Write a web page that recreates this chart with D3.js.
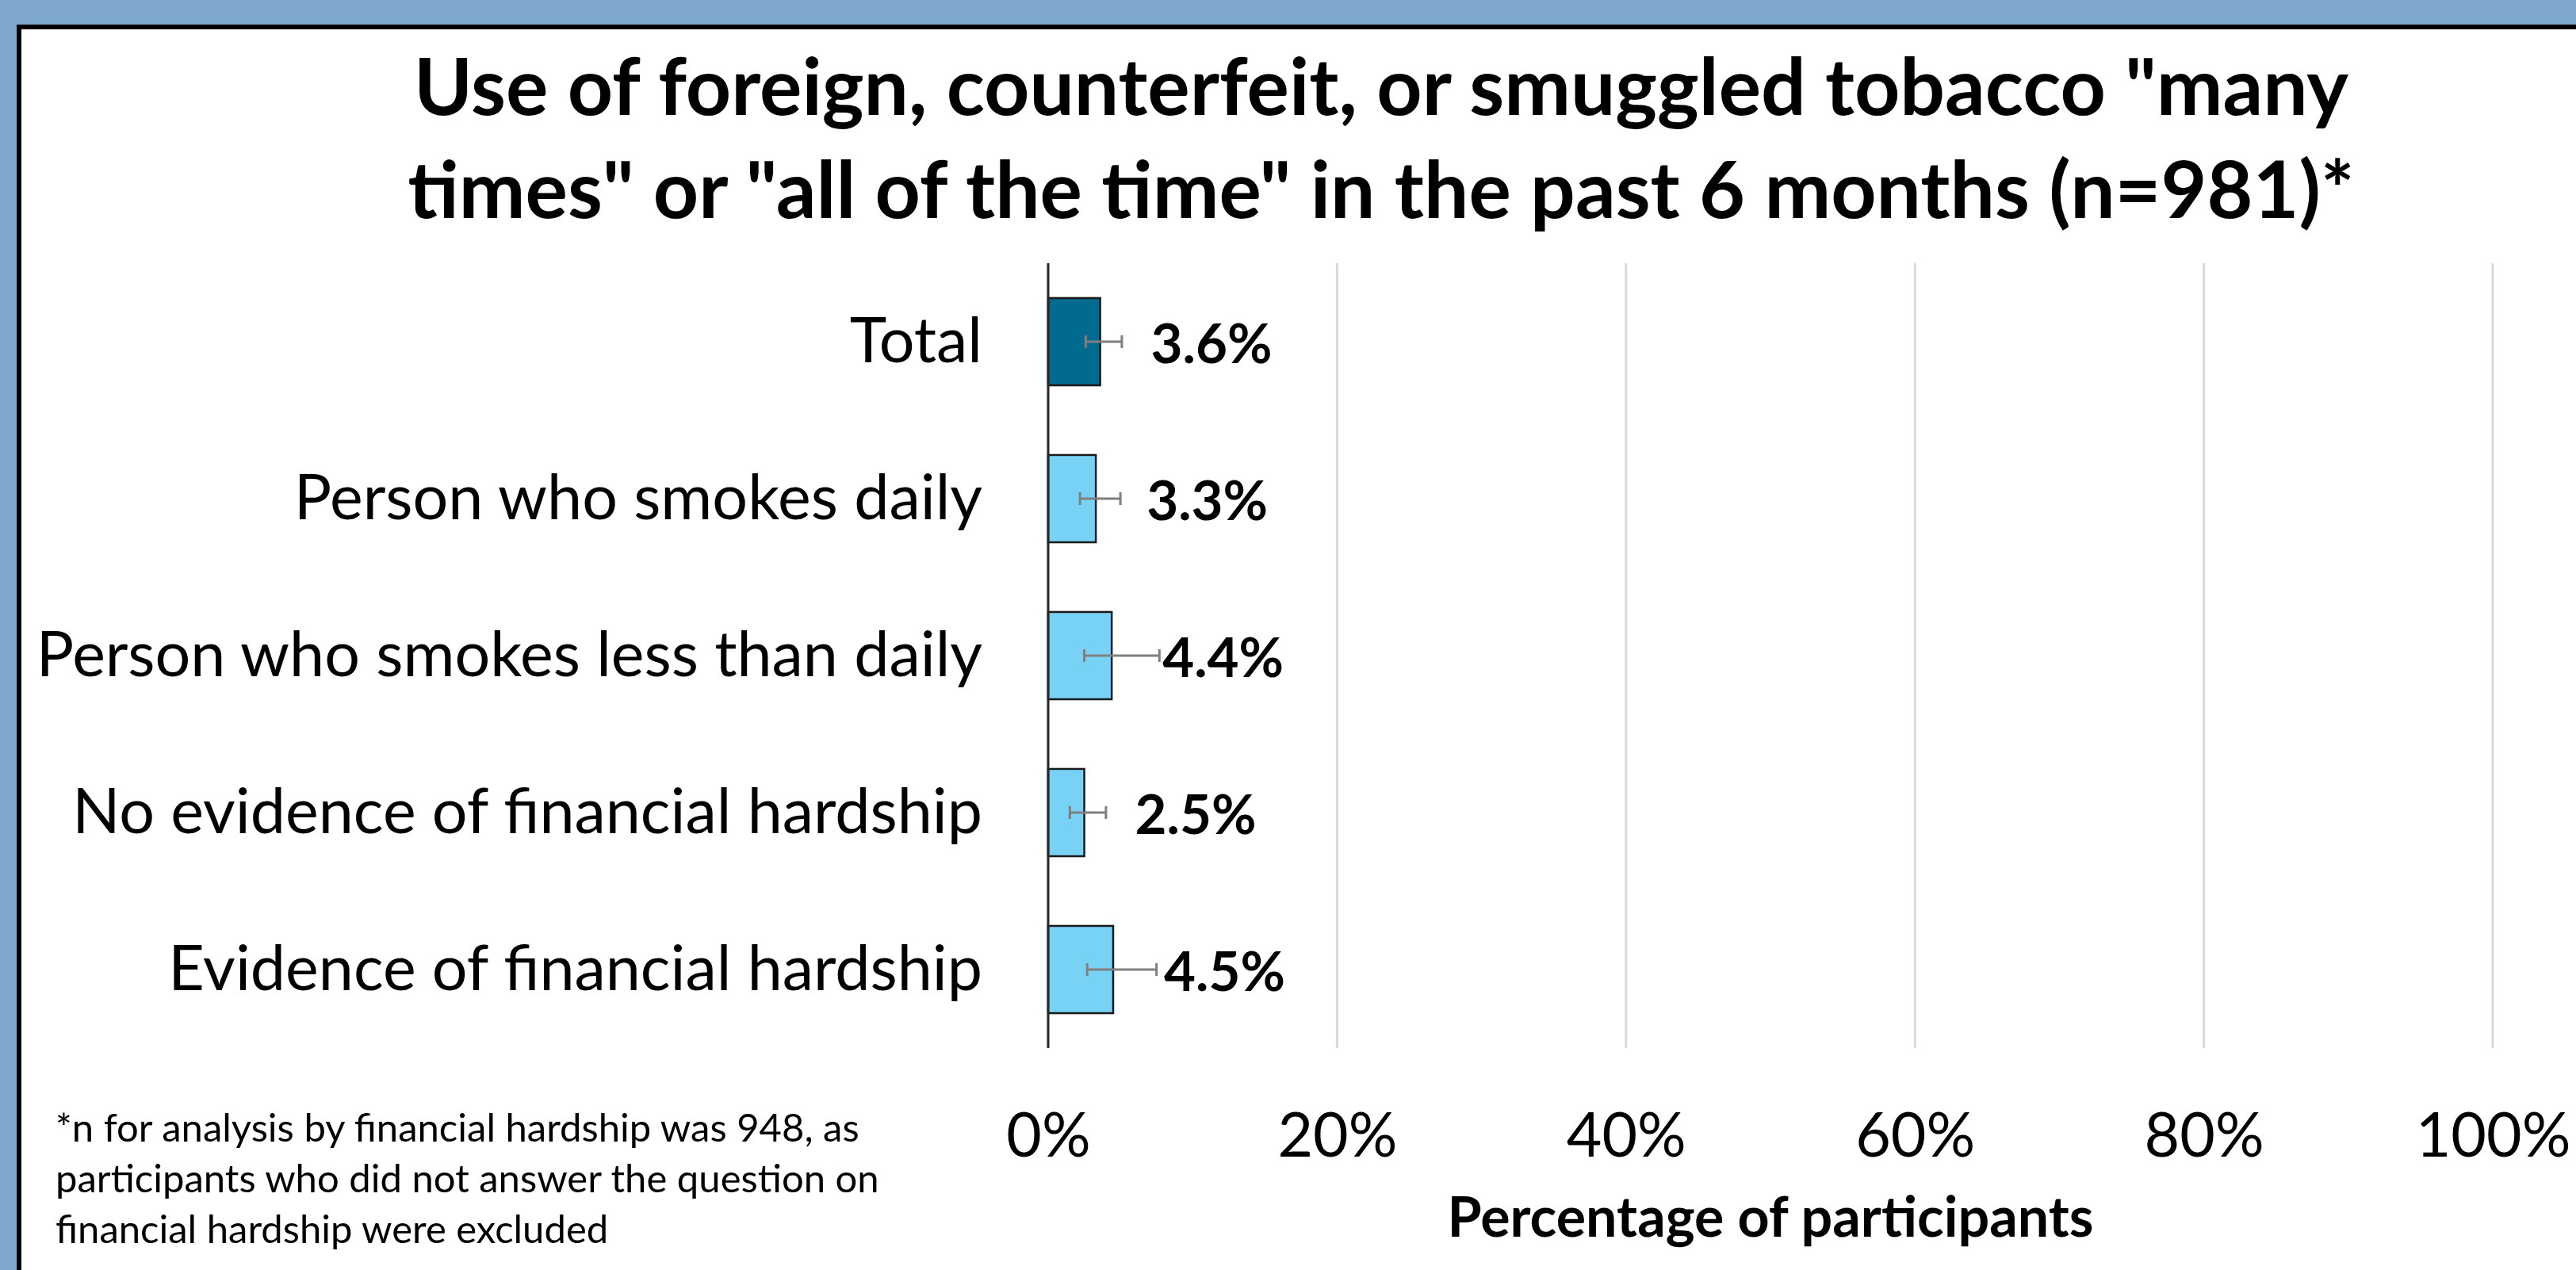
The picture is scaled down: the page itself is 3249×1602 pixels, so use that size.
<!DOCTYPE html>
<html>
<head>
<meta charset="utf-8">
<script src="https://cdn.jsdelivr.net/npm/d3@7"></script>
<style>
  body { margin: 0; background: #7fa9cc; }
  text { font-family: Lato, "Open Sans", sans-serif; fill: #000; }
</style>
</head>
<body>
<script>
var width = 3249,
    height = 1602;

// data
var categories = ["Total", "Person who smokes daily", "Person who smokes less than daily",
                  "No evidence of financial hardship", "Evidence of financial hardship"];
var values = [3.6, 3.3, 4.4, 2.5, 4.5];
var ciLow = [2.6, 2.2, 2.5, 1.5, 2.7];
var ciHigh = [5.1, 5.0, 7.7, 4.0, 7.5];
var xTicks = [0, 20, 40, 60, 80, 100];

var titleLines = ["Use of foreign, counterfeit, or smuggled tobacco \"many",
                  "times\" or \"all of the time\" in the past 6 months (n=981)*"];
var footLines = ["*n for analysis by financial hardship was 948, as",
                 "participants who did not answer the question on",
                 "financial hardship were excluded"];

var rows = categories.map(function(c, i) {
  return {cat: c, val: values[i], lo: ciLow[i], hi: ciHigh[i], idx: i};
});

var plot = {left: 1322, right: 3144, top: 332, bottom: 1322};

//create svg canvas
var svg = d3.select("body").append("svg")
  .attr("width", width)
  .attr("height", height)
  .attr("id", "canvas");

svg.append("rect")
  .attr("width", width).attr("height", height)
  .attr("fill", "#7fa9cc");

// white panel with black frame (runs off the right / bottom edge)
svg.append("rect")
  .attr("x", 24).attr("y", 34)
  .attr("width", width + 40).attr("height", height + 40)
  .attr("fill", "#fff")
  .attr("stroke", "#000")
  .attr("stroke-width", 6);

var xScale = d3.scaleLinear()
  .domain([0, 100])
  .range([plot.left, plot.right]);

var yScale = d3.scaleBand()
  .domain(categories)
  .range([plot.top, plot.bottom])
  .paddingInner(0.444)
  .paddingOuter(0.222);

//gridlines
svg.append("g")
  .selectAll("line")
  .data(xTicks.filter(function(t){ return t > 0; }))
  .enter().append("line")
    .attr("x1", function(d){ return xScale(d); })
    .attr("x2", function(d){ return xScale(d); })
    .attr("y1", plot.top)
    .attr("y2", plot.bottom)
    .attr("stroke", "#d9d9d9")
    .attr("stroke-width", 3);

//x axis tick labels
var xAxisCall = d3.axisBottom(xScale)
  .tickValues(xTicks)
  .tickSize(0)
  .tickPadding(0)
  .tickFormat(function(d){ return d + "%"; });
var xAxis = svg.append("g")
  .attr("class", "x-axis")
  .attr("transform", "translate(0," + plot.bottom + ")")
  .call(xAxisCall);
xAxis.select(".domain").remove();
xAxis.selectAll("text")
  .attr("dy", null)
  .attr("y", 137)
  .style("font-family", "Lato, sans-serif")
  .style("font-size", "77px");

//category labels
var yAxisCall = d3.axisLeft(yScale)
  .tickSize(0)
  .tickPadding(83);
var yAxis = svg.append("g")
  .attr("class", "y-axis")
  .attr("transform", "translate(" + plot.left + ",0)")
  .call(yAxisCall);
yAxis.select(".domain").remove();
yAxis.selectAll("text")
  .attr("dy", null)
  .attr("y", 26)
  .style("font-family", "Lato, sans-serif")
  .style("font-size", "79px");

//bars
svg.append("g")
  .selectAll("rect")
  .data(rows)
  .enter().append("rect")
    .attr("x", xScale(0))
    .attr("y", function(d){ return yScale(d.cat); })
    .attr("width", function(d){ return xScale(d.val) - xScale(0); })
    .attr("height", yScale.bandwidth())
    .attr("fill", function(d){ return d.idx === 0 ? "#006b8f" : "#78d2f6"; })
    .attr("stroke", "#1a1a1a")
    .attr("stroke-width", 2.5);

//error bars
var err = svg.append("g")
  .attr("stroke", "#7f7f7f")
  .attr("stroke-width", 3)
  .selectAll("g")
  .data(rows)
  .enter().append("g")
    .attr("transform", function(d){
      return "translate(0," + (yScale(d.cat) + yScale.bandwidth() / 2) + ")";
    });
err.append("line")
  .attr("x1", function(d){ return xScale(d.lo); })
  .attr("x2", function(d){ return xScale(d.hi); });
err.append("line")
  .attr("x1", function(d){ return xScale(d.lo); })
  .attr("x2", function(d){ return xScale(d.lo); })
  .attr("y1", -8).attr("y2", 8);
err.append("line")
  .attr("x1", function(d){ return xScale(d.hi); })
  .attr("x2", function(d){ return xScale(d.hi); })
  .attr("y1", -8).attr("y2", 8);

//value labels
svg.append("g")
  .selectAll("text")
  .data(rows)
  .enter().append("text")
    .attr("x", function(d){ return xScale(d.val) + 64; })
    .attr("y", function(d){ return yScale(d.cat) + yScale.bandwidth() / 2 + 27; })
    .style("font-size", "69px")
    .style("font-weight", "bold")
    .text(function(d){ return d.val.toFixed(1) + "%"; });

//axis line at 0
svg.append("line")
  .attr("x1", xScale(0)).attr("x2", xScale(0))
  .attr("y1", plot.top).attr("y2", plot.bottom)
  .attr("stroke", "#262626")
  .attr("stroke-width", 3);

//title
svg.append("g")
  .selectAll("text")
  .data(titleLines)
  .enter().append("text")
    .attr("x", 1742)
    .attr("y", function(d, i){ return 145 + i * 130; })
    .attr("text-anchor", "middle")
    .style("font-size", "100px")
    .style("font-weight", "bold")
    .text(function(d){ return d; });

//x axis title
svg.append("text")
  .attr("x", (plot.left + plot.right) / 2)
  .attr("y", 1560)
  .attr("text-anchor", "middle")
  .style("font-size", "70px")
  .style("font-weight", "bold")
  .text("Percentage of participants");

//footnote
svg.append("g")
  .selectAll("text")
  .data(footLines)
  .enter().append("text")
    .attr("x", 70)
    .attr("y", function(d, i){ return 1440 + i * 64; })
    .style("font-size", "49px")
    .text(function(d){ return d; });
</script>
</body>
</html>
